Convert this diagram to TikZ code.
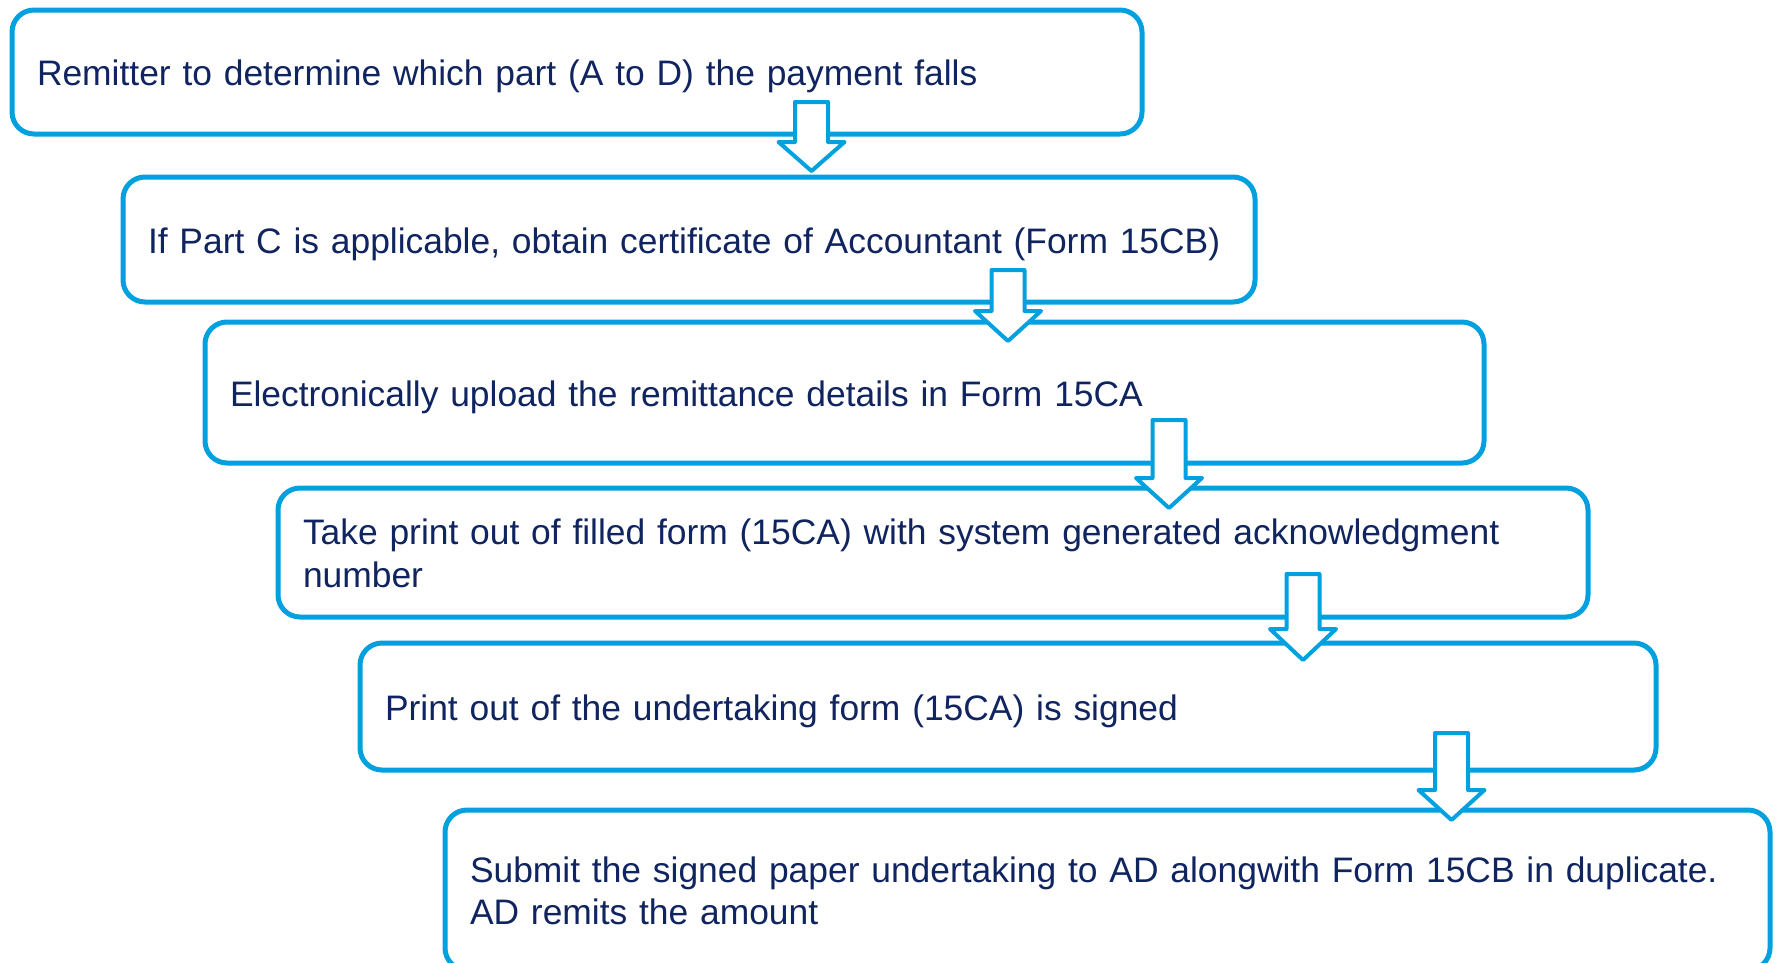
\documentclass[tikz,border=0pt]{standalone}
\usepackage{fontspec}
\setmainfont{Liberation Sans}
\hyphenpenalty=10000
\exhyphenpenalty=10000
\definecolor{cblue}{RGB}{0,161,222}
\definecolor{navy}{RGB}{16,36,96}
\tikzset{
  stepbox/.style={draw=cblue, line width=5pt, rounded corners=22pt, anchor=north west,
    outer sep=0pt, inner xsep=25pt, inner ysep=0pt, align=left, text=navy, fill=white,
    font=\fontsize{35.4}{42.5}\selectfont, text height=27pt, text depth=0pt},
  twoline/.style={text depth=42.5pt},
  downarrow/.style={draw=cblue, line width=4pt, fill=white, line join=round},
}
\begin{document}
\begin{tikzpicture}[x=1pt,y=-1pt]
\useasboundingbox (0,0) rectangle (1776,962);
\node[stepbox, minimum width=1130pt, minimum height=124pt, text width=1080pt] (b1) at (12,10)
  {Remitter to determine which part (A to D) the payment falls};
\node[stepbox, minimum width=1132pt, minimum height=125pt, text width=1082pt] (b2) at (123,177)
  {If Part C is applicable, obtain certificate of Accountant (Form 15CB)};
\node[stepbox, minimum width=1279pt, minimum height=141pt, text width=1229pt] (b3) at (205,322)
  {Electronically upload the remittance details in Form 15CA};
\node[stepbox, twoline, minimum width=1310pt, minimum height=129pt, text width=1260pt] (b4) at (278,488)
  {Take print out of filled form (15CA) with system generated acknowledgment\\number};
\node[stepbox, minimum width=1296pt, minimum height=127pt, text width=1246pt] (b5) at (360,643)
  {Print out of the undertaking form (15CA) is signed};
\node[stepbox, twoline, minimum width=1325pt, minimum height=160pt, text width=1275pt] (b6) at (445,810)
  {Submit the signed paper undertaking to AD alongwith Form 15CB in duplicate.\\AD remits the amount};
% block arrows
\coordinate (t1) at (811.5,102);
\coordinate (t2) at (1008,270);
\coordinate (t3) at (1169,420);
\coordinate (t4) at (1303,574);
\coordinate (t5) at (1451.5,733);
\draw[downarrow] (t1) ++(-16.5,0) -- ++(33,0) -- ++(0,40) -- ++(16.5,0) -- ++(-33,29) -- ++(-33,-29) -- ++(16.5,0) -- cycle;
\draw[downarrow] (t2) ++(-16.5,0) -- ++(33,0) -- ++(0,41) -- ++(16.5,0) -- ++(-33,30) -- ++(-33,-30) -- ++(16.5,0) -- cycle;
\draw[downarrow] (t3) ++(-16.5,0) -- ++(33,0) -- ++(0,58) -- ++(16.5,0) -- ++(-33,30) -- ++(-33,-30) -- ++(16.5,0) -- cycle;
\draw[downarrow] (t4) ++(-16.5,0) -- ++(33,0) -- ++(0,55) -- ++(16.5,0) -- ++(-33,31) -- ++(-33,-31) -- ++(16.5,0) -- cycle;
\draw[downarrow] (t5) ++(-16.5,0) -- ++(33,0) -- ++(0,57) -- ++(16.5,0) -- ++(-33,30) -- ++(-33,-30) -- ++(16.5,0) -- cycle;
\end{tikzpicture}
\end{document}
